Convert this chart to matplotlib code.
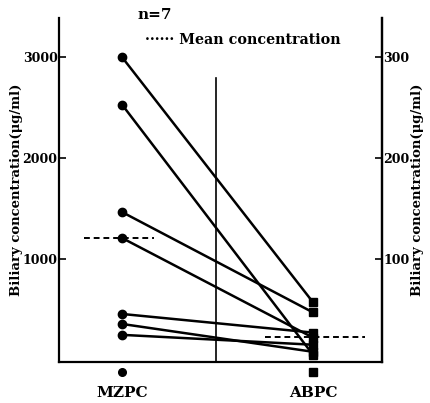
import matplotlib.pyplot as plt

# biliary concentration per patient (ug/ml), n=7
mzpc = [3000, 2530, 1465, 1208, 455, 356, 248]
abpc = [57, 5, 47, 22, 27, 8, 15]          # right axis scale
mzpc_mean = 1210
abpc_mean = 23
groups = ['MZPC', 'ABPC']
left_ticks = [1000, 2000, 3000]
right_ticks = [100, 200, 300]

plt.rcParams['font.family'] = 'DejaVu Serif'
plt.rcParams['font.weight'] = 'bold'
plt.rcParams['axes.labelweight'] = 'bold'

fig = plt.figure(figsize=(4.3, 4.03), dpi=100)
ax = fig.add_axes([0.137, 0.102, 0.751, 0.853])

for a, b in zip(mzpc, abpc):
    ax.plot([0, 1], [a, b * 10], color='black', lw=1.8)
ax.plot([0] * len(mzpc), mzpc, 'o', color='black', ms=6)
ax.plot([1] * len(abpc), [v * 10 for v in abpc], 's', color='black', ms=6)

# mean concentration
ax.plot([-0.2, 0.17], [mzpc_mean, mzpc_mean], color='black', lw=1.4, ls=(0, (3, 2)))
ax.plot([0.75, 1.27], [abpc_mean * 10, abpc_mean * 10], color='black', lw=1.4, ls=(0, (3, 2)))

# divider
ax.axvline(0.49, ymin=0, ymax=0.826, color='black', lw=1.2)

ax.set_xlim(-0.33, 1.36)
ax.set_ylim(-20, 3386)
ax.spines['top'].set_visible(False)
for s in ['left', 'right', 'bottom']:
    ax.spines[s].set_linewidth(1.6)

ax.set_yticks(left_ticks)
ax.set_yticklabels([str(t) for t in left_ticks], fontsize=9)
ax.tick_params(axis='y', direction='in', length=5, width=1.2, pad=1)
ax.set_ylabel('Biliary concentration(\u03bcg/ml)', fontsize=9.5, labelpad=0)

ax.set_xticks([0, 1])
ax.set_xticklabels(groups, fontsize=11)
ax.tick_params(axis='x', length=0, pad=17)
trans = ax.get_xaxis_transform()
ax.plot([0], [-0.03], 'o', color='black', ms=5.5, transform=trans, clip_on=False)
ax.plot([1], [-0.03], 's', color='black', ms=5.5, transform=trans, clip_on=False)

sec = ax.secondary_yaxis('right', functions=(lambda y: y / 10, lambda y: y * 10))
sec.set_yticks(right_ticks)
sec.set_yticklabels([str(t) for t in right_ticks], fontsize=9)
sec.tick_params(direction='in', length=5, width=1.2, pad=1)
sec.spines['right'].set_linewidth(1.6)
sec.set_ylabel('Biliary concentration(\u03bcg/ml)', fontsize=9.5, labelpad=1)

fig.text(0.32, 0.962, 'n=7', fontsize=11, ha='left', va='center')
fig.text(0.337, 0.9, '\u00b7\u00b7\u00b7\u00b7\u00b7\u00b7 Mean concentration', fontsize=10.3, ha='left', va='center')

fig.savefig('out.png', dpi=100)
